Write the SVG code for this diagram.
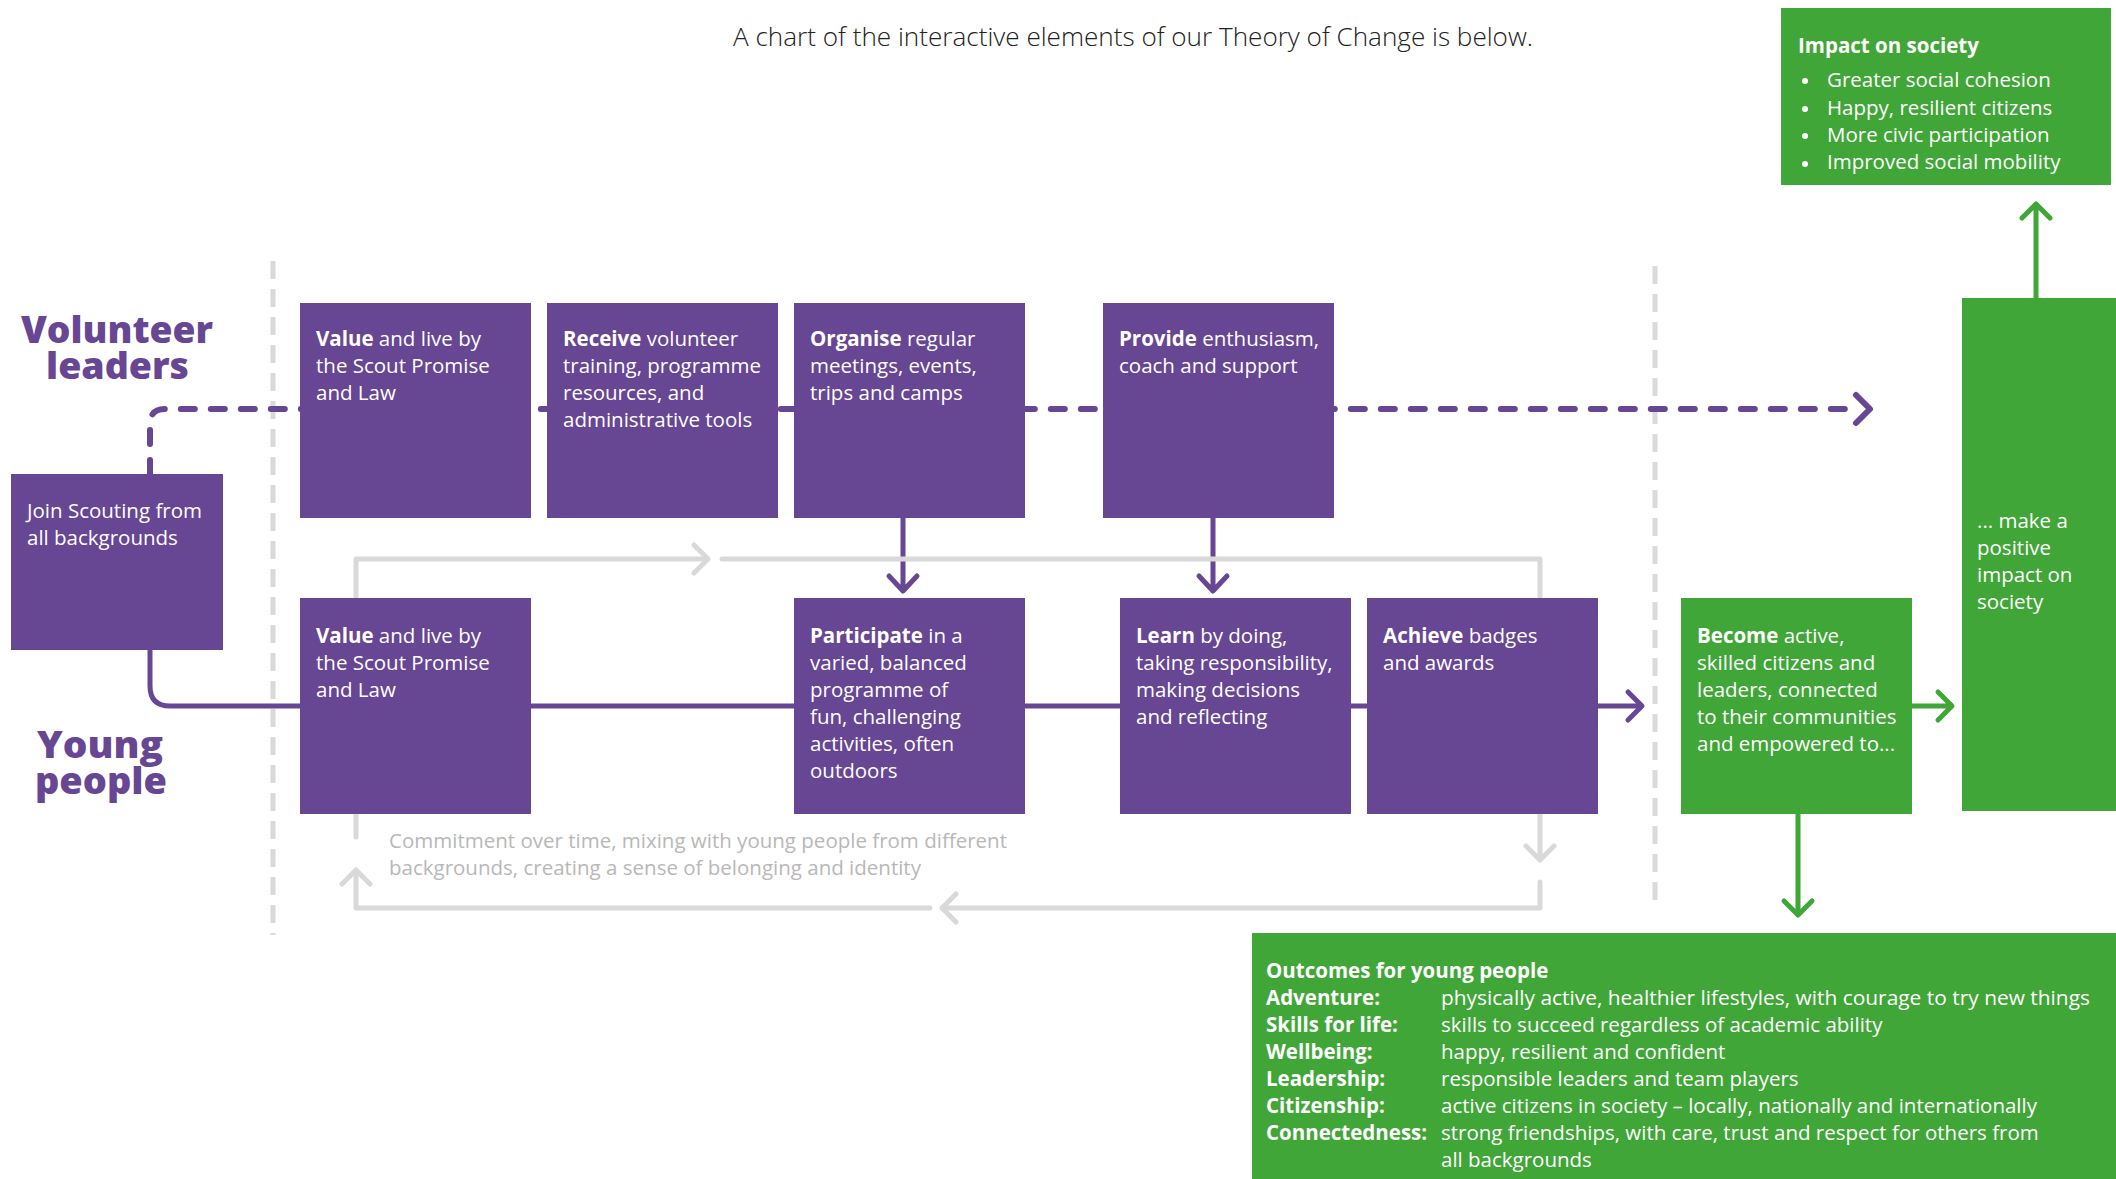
<svg xmlns="http://www.w3.org/2000/svg" width="2116" height="1179" viewBox="0 0 2116 1179">
<style>
  .bg{fill:#ffffff}
  .pbox{fill:#674694}
  .gbox{fill:#40a637}
  .t{font-family:"Open Sans","Liberation Sans",sans-serif;font-size:20.5px;fill:#ffffff}
  .b{font-weight:700}
  .head{font-family:"Open Sans","Liberation Sans",sans-serif;font-size:37px;font-weight:800;fill:#674694}
  .title{font-family:"Open Sans","Liberation Sans",sans-serif;font-size:26px;font-weight:300;fill:#222222}
  .note{font-family:"Open Sans","Liberation Sans",sans-serif;font-size:20.5px;fill:#b8b8b8}
  .pl{fill:none;stroke:#674694;stroke-width:5;stroke-linecap:round;stroke-linejoin:round}
  .pd{fill:none;stroke:#674694;stroke-width:6;stroke-linecap:round;stroke-dasharray:14 16}
  .gl{fill:none;stroke:#d9d9d9;stroke-width:5;stroke-linecap:round;stroke-linejoin:round}
  .gr{fill:none;stroke:#40a637;stroke-width:5;stroke-linecap:round;stroke-linejoin:round}
  .sep{fill:none;stroke:#dadada;stroke-width:5;stroke-dasharray:18 10}
</style>
<rect class="bg" x="0" y="0" width="2116" height="1179"/>

<text class="title" x="733" y="46" textLength="800" lengthAdjust="spacingAndGlyphs">A chart of the interactive elements of our Theory of Change is below.</text>

<g id="separators">
  <path class="sep" d="M273,261 V935"/>
  <path class="sep" d="M1655,266 V910"/>
</g>

<g id="connectors">
  <path class="pd" d="M150,474 V424 Q150,409 165,409 H1860"/>
  <path class="pl" style="stroke-width:6" d="M1856,395 L1870,409 L1856,423"/>
  <path class="pl" d="M150,650 V686 Q150,706 170,706 H1638"/>
  <path class="pl" d="M1628,692 L1642,706 L1628,720"/>
  <path class="pl" d="M903,518 V589 M889,576 L903,591 L917,576"/>
  <path class="pl" d="M1213,518 V589 M1199,576 L1213,591 L1227,576"/>
  <path class="gl" d="M356,598 V559 H706 M694,545 L708,559 L694,573"/>
  <path class="gl" d="M722,559 H1540 V598"/>
  <path class="gl" d="M356,814 V837"/>
  <path class="gl" d="M1540,814 V858 M1526,846 L1540,860 L1554,846"/>
  <path class="gl" d="M1540,882 V908 H944 M956,894 L942,908 L956,922"/>
  <path class="gl" d="M930,908 H356 V872 M342,884 L356,870 L370,884"/>
  <path class="gr" d="M1912,706 H1950 M1938,692 L1952,706 L1938,720"/>
  <path class="gr" d="M1798,814 V913 M1784,901 L1798,915 L1812,901"/>
  <path class="gr" d="M2036,298 V206 M2022,218 L2036,204 L2050,218"/>
</g>

<g id="label-volunteer">
  <text class="head" x="21" y="343" textLength="192" lengthAdjust="spacingAndGlyphs">Volunteer</text>
  <text class="head" x="46" y="379" textLength="143" lengthAdjust="spacingAndGlyphs">leaders</text>
</g>
<g id="label-young">
  <text class="head" x="37" y="758" textLength="126" lengthAdjust="spacingAndGlyphs">Young</text>
  <text class="head" x="35" y="794" textLength="132" lengthAdjust="spacingAndGlyphs">people</text>
</g>

<g id="join">
  <rect class="pbox" x="11" y="474" width="212" height="176"/>
  <text class="t" x="27" y="518">Join Scouting from</text>
  <text class="t" x="27" y="545">all backgrounds</text>
</g>

<g id="vl-value">
  <rect class="pbox" x="300" y="303" width="231" height="215"/>
  <text class="t" x="316" y="346"><tspan class="b">Value</tspan> and live by</text>
  <text class="t" x="316" y="373">the Scout Promise</text>
  <text class="t" x="316" y="400">and Law</text>
</g>
<g id="vl-receive">
  <rect class="pbox" x="547" y="303" width="231" height="215"/>
  <text class="t" x="563" y="346"><tspan class="b">Receive</tspan> volunteer</text>
  <text class="t" x="563" y="373">training, programme</text>
  <text class="t" x="563" y="400">resources, and</text>
  <text class="t" x="563" y="427">administrative tools</text>
</g>
<g id="vl-organise">
  <rect class="pbox" x="794" y="303" width="231" height="215"/>
  <text class="t" x="810" y="346"><tspan class="b">Organise</tspan> regular</text>
  <text class="t" x="810" y="373">meetings, events,</text>
  <text class="t" x="810" y="400">trips and camps</text>
</g>
<g id="vl-provide">
  <rect class="pbox" x="1103" y="303" width="231" height="215"/>
  <text class="t" x="1119" y="346"><tspan class="b">Provide</tspan> enthusiasm,</text>
  <text class="t" x="1119" y="373">coach and support</text>
</g>

<g id="yp-value">
  <rect class="pbox" x="300" y="598" width="231" height="216"/>
  <text class="t" x="316" y="643"><tspan class="b">Value</tspan> and live by</text>
  <text class="t" x="316" y="670">the Scout Promise</text>
  <text class="t" x="316" y="697">and Law</text>
</g>
<g id="yp-participate">
  <rect class="pbox" x="794" y="598" width="231" height="216"/>
  <text class="t" x="810" y="643"><tspan class="b">Participate</tspan> in a</text>
  <text class="t" x="810" y="670">varied, balanced</text>
  <text class="t" x="810" y="697">programme of</text>
  <text class="t" x="810" y="724">fun, challenging</text>
  <text class="t" x="810" y="751">activities, often</text>
  <text class="t" x="810" y="778">outdoors</text>
</g>
<g id="yp-learn">
  <rect class="pbox" x="1120" y="598" width="231" height="216"/>
  <text class="t" x="1136" y="643"><tspan class="b">Learn</tspan> by doing,</text>
  <text class="t" x="1136" y="670">taking responsibility,</text>
  <text class="t" x="1136" y="697">making decisions</text>
  <text class="t" x="1136" y="724">and reflecting</text>
</g>
<g id="yp-achieve">
  <rect class="pbox" x="1367" y="598" width="231" height="216"/>
  <text class="t" x="1383" y="643"><tspan class="b">Achieve</tspan> badges</text>
  <text class="t" x="1383" y="670">and awards</text>
</g>

<g id="become">
  <rect class="gbox" x="1681" y="598" width="231" height="216"/>
  <text class="t" x="1697" y="643"><tspan class="b">Become</tspan> active,</text>
  <text class="t" x="1697" y="670">skilled citizens and</text>
  <text class="t" x="1697" y="697">leaders, connected</text>
  <text class="t" x="1697" y="724">to their communities</text>
  <text class="t" x="1697" y="751">and empowered to...</text>
</g>

<g id="make-impact">
  <rect class="gbox" x="1962" y="298" width="154" height="513"/>
  <text class="t" x="1977" y="528">... make a</text>
  <text class="t" x="1977" y="555">positive</text>
  <text class="t" x="1977" y="582">impact on</text>
  <text class="t" x="1977" y="609">society</text>
</g>

<g id="impact-society">
  <rect class="gbox" x="1781" y="8" width="330" height="177"/>
  <text class="t b" x="1798" y="53">Impact on society</text>
  <circle cx="1805" cy="81" r="3" fill="#ffffff"/>
  <text class="t" x="1827" y="87">Greater social cohesion</text>
  <circle cx="1805" cy="109" r="3" fill="#ffffff"/>
  <text class="t" x="1827" y="115">Happy, resilient citizens</text>
  <circle cx="1805" cy="136" r="3" fill="#ffffff"/>
  <text class="t" x="1827" y="142">More civic participation</text>
  <circle cx="1805" cy="164" r="3" fill="#ffffff"/>
  <text class="t" x="1827" y="169">Improved social mobility</text>
</g>

<g id="commitment-note">
  <text class="note" x="389" y="848">Commitment over time, mixing with young people from different</text>
  <text class="note" x="389" y="875">backgrounds, creating a sense of belonging and identity</text>
</g>

<g id="outcomes">
  <rect class="gbox" x="1252" y="933" width="864" height="246"/>
  <text class="t b" x="1266" y="978">Outcomes for young people</text>
  <text class="t b" x="1266" y="1005">Adventure:</text>
  <text class="t" x="1441" y="1005" textLength="649" lengthAdjust="spacingAndGlyphs">physically active, healthier lifestyles, with courage to try new things</text>
  <text class="t b" x="1266" y="1032">Skills for life:</text>
  <text class="t" x="1441" y="1032">skills to succeed regardless of academic ability</text>
  <text class="t b" x="1266" y="1059">Wellbeing:</text>
  <text class="t" x="1441" y="1059">happy, resilient and confident</text>
  <text class="t b" x="1266" y="1086">Leadership:</text>
  <text class="t" x="1441" y="1086">responsible leaders and team players</text>
  <text class="t b" x="1266" y="1113">Citizenship:</text>
  <text class="t" x="1441" y="1113">active citizens in society – locally, nationally and internationally</text>
  <text class="t b" x="1266" y="1140">Connectedness:</text>
  <text class="t" x="1441" y="1140">strong friendships, with care, trust and respect for others from</text>
  <text class="t" x="1441" y="1167">all backgrounds</text>
</g>
</svg>
